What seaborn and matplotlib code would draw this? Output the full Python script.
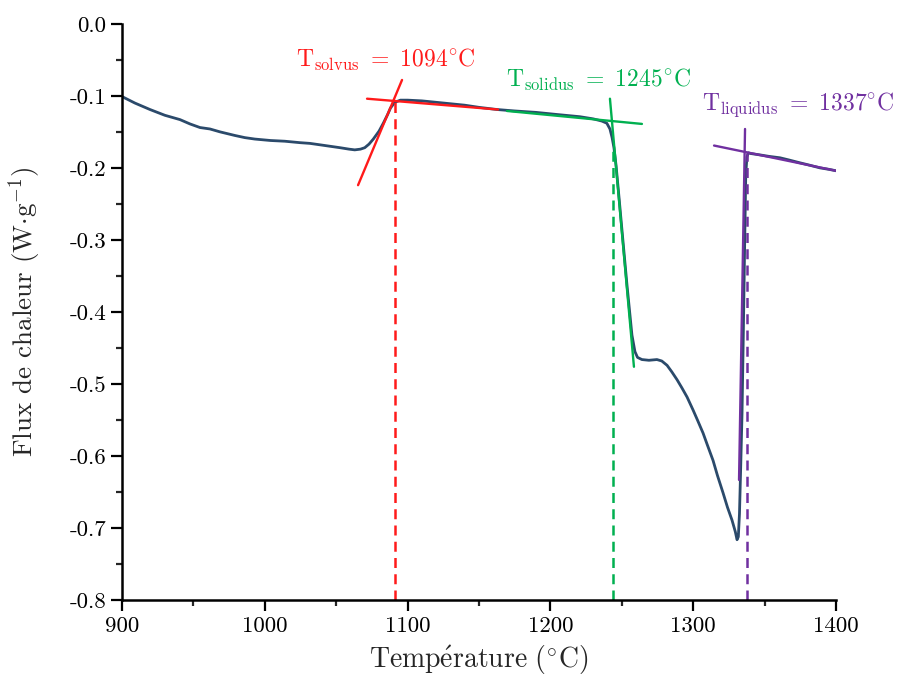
import matplotlib
matplotlib.use("Agg")
import matplotlib.pyplot as plt
import seaborn as sns
import pandas as pd

# ---------------------------------------------------------------------------
# Data
# ---------------------------------------------------------------------------
temperature = [900, 909, 919.6, 930, 940.6, 947.6, 954.6, 961.6, 968.6, 979,
               986, 993, 1004, 1014, 1024.6, 1031.6, 1038.7, 1045.7, 1052.7,
               1059, 1063, 1067, 1070, 1073, 1076, 1080, 1083, 1086, 1088,
               1091, 1095, 1100, 1110, 1120, 1130, 1140, 1150, 1162.6, 1175,
               1190, 1205, 1220.7, 1230, 1236, 1239.5, 1241.7, 1243.2, 1244.5,
               1246, 1248, 1250.1, 1253.6, 1257.1, 1259.2, 1261, 1264.1,
               1269, 1274.6, 1278, 1281.7, 1285, 1288.7, 1292, 1295.7, 1299.9,
               1303, 1306.9, 1310, 1313.9, 1317, 1320.9, 1324, 1327.2, 1329.5,
               1330.7, 1331.6, 1332.4, 1333.2, 1334.2, 1335.1, 1336, 1336.8,
               1337.6, 1338.6, 1340, 1346.8, 1353, 1360.8, 1367, 1374.8, 1381,
               1388.8, 1395, 1400]
heat_flux = [-0.101, -0.110, -0.119, -0.127, -0.133, -0.139, -0.144, -0.146,
             -0.150, -0.155, -0.158, -0.160, -0.162, -0.163, -0.165, -0.166,
             -0.168, -0.170, -0.172, -0.174, -0.175, -0.174, -0.172, -0.167,
             -0.160, -0.149, -0.138, -0.126, -0.117, -0.109, -0.106, -0.106,
             -0.107, -0.109, -0.111, -0.113, -0.116, -0.119, -0.121, -0.123,
             -0.126, -0.129, -0.132, -0.135, -0.138, -0.146, -0.158, -0.172,
             -0.197, -0.240, -0.286, -0.362, -0.432, -0.455, -0.463, -0.466,
             -0.467, -0.466, -0.468, -0.474, -0.483, -0.494, -0.505, -0.518,
             -0.536, -0.550, -0.568, -0.585, -0.606, -0.627, -0.651, -0.671,
             -0.689, -0.705, -0.716, -0.712, -0.680, -0.620, -0.540, -0.430,
             -0.310, -0.210, -0.185, -0.179, -0.180, -0.182, -0.184, -0.186,
             -0.189, -0.193, -0.196, -0.200, -0.202, -0.204]

# tangent constructions (two endpoints each)
solvus_tan_x = [[1065.3, 1096.1], [1071.6, 1163.3]]
solvus_tan_y = [[-0.224, -0.078], [-0.104, -0.119]]
solidus_tan_x = [[1169.6, 1264.1], [1241.7, 1258.5]]
solidus_tan_y = [[-0.121, -0.139], [-0.104, -0.476]]
liquidus_tan_x = [[1314.6, 1400.0], [1336.3, 1332.1]]
liquidus_tan_y = [[-0.169, -0.204], [-0.146, -0.633]]

# transition temperatures (dashed markers) and where they meet the curve
transition_T = [1091, 1244, 1338]
transition_top = [-0.108, -0.170, -0.179]
transition_names = ["solvus", "solidus", "liquidus"]
transition_labels = [1094, 1245, 1337]

RED = "#ff1a1a"
GREEN = "#00b050"
PURPLE = "#7030a0"
CURVE = "#2b4a6b"
colors = [RED, GREEN, PURPLE]

# ---------------------------------------------------------------------------
# Style
# ---------------------------------------------------------------------------
sns.set_style("ticks")
plt.rcParams["font.family"] = ["cmr10", "DejaVu Serif"]
plt.rcParams["mathtext.fontset"] = "cm"
plt.rcParams["axes.unicode_minus"] = False
plt.rcParams["axes.formatter.use_mathtext"] = False

fig, ax = plt.subplots(figsize=(8.97, 6.79), dpi=100)
fig.subplots_adjust(left=0.136, right=0.932, bottom=0.116, top=0.965)

df = pd.DataFrame({"T": temperature, "q": heat_flux})
sns.lineplot(data=df, x="T", y="q", ax=ax, color=CURVE, lw=2.0,
             estimator=None, sort=False)

tangents = [(solvus_tan_x, solvus_tan_y), (solidus_tan_x, solidus_tan_y),
            (liquidus_tan_x, liquidus_tan_y)]
for (xs, ys), c in zip(tangents, colors):
    for x, y in zip(xs, ys):
        sns.lineplot(x=x, y=y, ax=ax, color=c, lw=1.7, estimator=None,
                     sort=False)

for t, top, c in zip(transition_T, transition_top, colors):
    ax.vlines(t, -0.8, top, colors=c, linestyles=(0, (4, 2.5)), lw=1.8)

label_pos = [(1022, -0.050), (1169, -0.078), (1306, -0.1125)]
for (lx, ly), name, val, c in zip(label_pos, transition_names,
                                  transition_labels, colors):
    ax.text(lx, ly, r"$\mathrm{T_{%s}}\ =\ \mathrm{%d^{\circ}C}$" % (name, val),
            color=c, fontsize=17, va="center", ha="left", clip_on=False)

ax.set_xlim(900, 1400)
ax.set_ylim(-0.8, 0.0)
ax.set_xticks([900, 1000, 1100, 1200, 1300, 1400])
ax.set_xticks([950, 1050, 1150, 1250, 1350], minor=True)
ax.set_yticks([-0.8, -0.7, -0.6, -0.5, -0.4, -0.3, -0.2, -0.1, 0.0])
ax.set_yticklabels(["-0.8", "-0.7", "-0.6", "-0.5", "-0.4", "-0.3", "-0.2",
                    "-0.1", "0.0"])
ax.set_yticks([-0.75, -0.65, -0.55, -0.45, -0.35, -0.25, -0.15, -0.05],
              minor=True)
ax.tick_params(axis="both", which="major", length=8, width=1.6,
               labelsize=16.5, direction="out", colors="black")
ax.tick_params(axis="both", which="minor", length=4.5, width=1.6,
               direction="out")
for s in ["left", "bottom"]:
    ax.spines[s].set_linewidth(1.8)
    ax.spines[s].set_color("black")
sns.despine(ax=ax)

ax.set_xlabel(r"$\mathrm{Temp\acute{e}rature\ (^{\circ}C)}$", fontsize=20,
              labelpad=5)
ax.set_ylabel(r"Flux de chaleur (W$\cdot$g$^{\mathrm{-1}}$)", fontsize=19.5,
              labelpad=19)

fig.savefig("out.png", dpi=100)
